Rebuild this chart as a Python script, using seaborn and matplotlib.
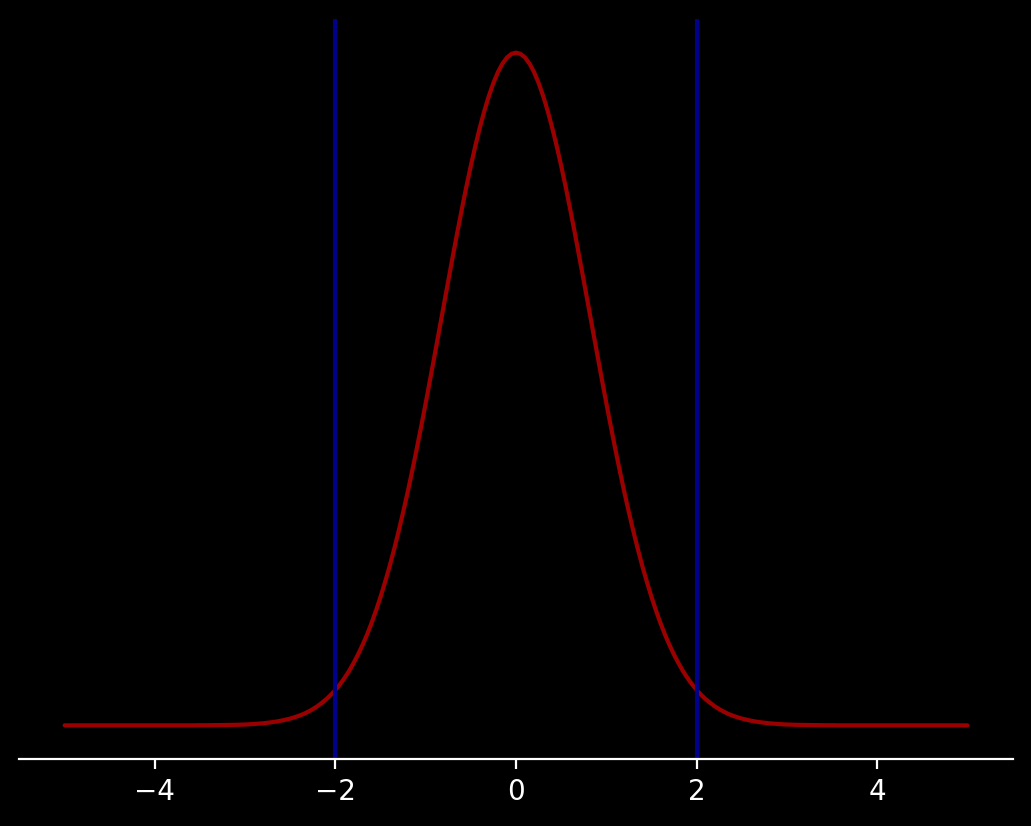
import pandas as pd
import matplotlib
matplotlib.use("Agg")
import matplotlib.pyplot as plt
import seaborn as sns

# x positions and curve heights (left half, then centre and right half)
x_left = [-5.0, -4.5, -4.0, -3.8, -3.6, -3.5, -3.4, -3.3, -3.2, -3.1, -3.0, -2.9,
          -2.80, -2.75, -2.70, -2.65, -2.60, -2.55, -2.50, -2.45, -2.40, -2.35, -2.30, -2.25,
          -2.20, -2.15, -2.10, -2.05, -2.00, -1.95, -1.90, -1.85, -1.80, -1.75, -1.70, -1.65,
          -1.60, -1.55, -1.50, -1.45, -1.40, -1.35, -1.30, -1.25, -1.20, -1.15, -1.10, -1.05,
          -1.00, -0.95, -0.90, -0.85, -0.80, -0.75, -0.70, -0.65, -0.60, -0.55, -0.50, -0.45,
          -0.40, -0.35, -0.30, -0.25, -0.20, -0.15, -0.10, -0.05]
y_left = [0.0000, 0.0000, 0.0000, 0.0000, 0.0000, 0.0001, 0.0001, 0.0002, 0.0003, 0.0004, 0.0006, 0.0010,
          0.0015, 0.0019, 0.0023, 0.0028, 0.0034, 0.0041, 0.0049, 0.0059, 0.0070, 0.0083, 0.0099, 0.0117,
          0.0138, 0.0162, 0.0189, 0.0220, 0.0255, 0.0295, 0.0340, 0.0390, 0.0447, 0.0509, 0.0578, 0.0653,
          0.0736, 0.0827, 0.0925, 0.1031, 0.1144, 0.1266, 0.1396, 0.1533, 0.1677, 0.1829, 0.1987, 0.2150,
          0.2318, 0.2491, 0.2666, 0.2843, 0.3021, 0.3198, 0.3373, 0.3545, 0.3711, 0.3872, 0.4024, 0.4167,
          0.4299, 0.4419, 0.4526, 0.4619, 0.4696, 0.4757, 0.4801, 0.4827]
x_right = [0.00, 0.05, 0.10, 0.15, 0.20, 0.25, 0.30, 0.35, 0.40, 0.45, 0.50, 0.55,
           0.60, 0.65, 0.70, 0.75, 0.80, 0.85, 0.90, 0.95, 1.00, 1.05, 1.10, 1.15,
           1.20, 1.25, 1.30, 1.35, 1.40, 1.45, 1.50, 1.55, 1.60, 1.65, 1.70, 1.75,
           1.80, 1.85, 1.90, 1.95, 2.00, 2.05, 2.10, 2.15, 2.20, 2.25, 2.30, 2.35,
           2.40, 2.45, 2.50, 2.55, 2.60, 2.65, 2.70, 2.75, 2.80, 2.9, 3.0, 3.1,
           3.2, 3.3, 3.4, 3.5, 3.6, 3.8, 4.0, 4.5, 5.0]
y_right = [0.4836, 0.4827, 0.4801, 0.4757, 0.4696, 0.4619, 0.4526, 0.4419, 0.4299, 0.4167, 0.4024, 0.3872,
           0.3711, 0.3545, 0.3373, 0.3198, 0.3021, 0.2843, 0.2666, 0.2491, 0.2318, 0.2150, 0.1987, 0.1829,
           0.1677, 0.1533, 0.1396, 0.1266, 0.1144, 0.1031, 0.0925, 0.0827, 0.0736, 0.0653, 0.0578, 0.0509,
           0.0447, 0.0390, 0.0340, 0.0295, 0.0255, 0.0220, 0.0189, 0.0162, 0.0138, 0.0117, 0.0099, 0.0083,
           0.0070, 0.0059, 0.0049, 0.0041, 0.0034, 0.0028, 0.0023, 0.0019, 0.0015, 0.0010, 0.0006, 0.0004,
           0.0003, 0.0002, 0.0001, 0.0001, 0.0000, 0.0000, 0.0000, 0.0000, 0.0000]
cutoffs = [-2, 2]
x_ticks = [-4, -2, 0, 2, 4]

df = pd.DataFrame({"x": x_left + x_right, "density": y_left + y_right})

sns.set_style("dark", {"axes.facecolor": "black", "figure.facecolor": "black"})
plt.rcParams["font.family"] = ["DejaVu Sans"]

fig = plt.figure(figsize=(5.155, 4.13), dpi=200, facecolor="black")
ax = fig.add_axes([19.5 / 1031, 67 / 826, 993 / 1031, 740 / 826])
ax.set_facecolor("black")

sns.lineplot(data=df, x="x", y="density", color="#9a0000", linewidth=1.5, ax=ax)
for c in cutoffs:
    ax.axvline(c, color="#000088", linewidth=1.5)

ax.set_xlim(-5.5, 5.5)
ax.set_xlabel("")
ax.set_ylabel("")
ax.set_yticks([])
ax.set_xticks(x_ticks)
ax.tick_params(axis="x", colors="white", labelsize=10, length=3.5, width=0.8,
               bottom=True, direction="out")
for s in ["left", "right", "top"]:
    ax.spines[s].set_visible(False)
ax.spines["bottom"].set_visible(True)
ax.spines["bottom"].set_color("white")
ax.spines["bottom"].set_linewidth(0.8)
ax.grid(False)

fig.savefig("out.png", dpi=200, facecolor="black")
